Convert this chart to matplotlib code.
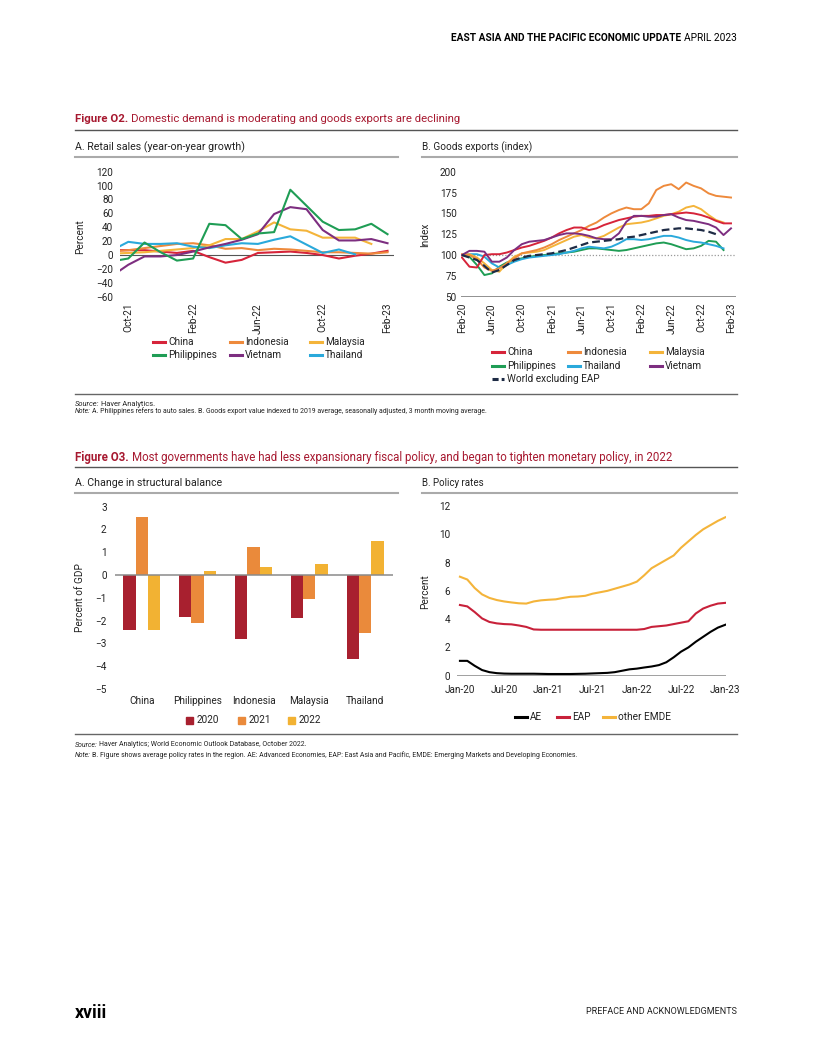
import numpy as np
import matplotlib
matplotlib.use('Agg')
import matplotlib.pyplot as plt
from matplotlib.lines import Line2D
from matplotlib.patches import Rectangle
from matplotlib import font_manager

W, H = 816, 1056

# ---------------- data ----------------
# Figure O2 A: retail sales, Sep-21 .. Feb-23 (Sep-21 sits outside the axis, only its stub shows)
retail_ticks = ['Oct-21', 'Feb-22', 'Jun-22', 'Oct-22', 'Feb-23']
retail_china = [7, 7, 7, 5, 3, 6, -3, -11, -7, 3, 4, 5, 3, 0, -5, -1, 2, 6]
retail_indonesia = [5, 7, 10, 13, 16, 17, 14, 9, 10, 7, 9, 8, 6, 4, 4, 3, 2, 4]
retail_malaysia = [2, 3, 4, 6, 8, 10, 14, 23, 23, 34, 47, 37, 35, 25, 25, 25, 16]
retail_philippines = [-9, -5, 18, 4, -8, -5, 45, 43, 23, 31, 33, 94, 71, 48, 36, 37, 45, 30]
retail_vietnam = [-30, -14, -2, -2, 0, 5, 11, 16, 22, 30, 59, 69, 66, 36, 21, 21, 23, 17]
retail_thailand = [7, 19, 16, 16, 17, 12, 10, 14, 17, 16, 22, 27, 15, 3, 8, 1]

# Figure O2 B: goods exports index, Feb-20 .. Feb-23
goods_ticks = ['Feb-20', 'Jun-20', 'Oct-20', 'Feb-21', 'Jun-21', 'Oct-21',
               'Feb-22', 'Jun-22', 'Oct-22', 'Feb-23']
goods_china = [97, 86, 85, 100, 101, 101, 103, 106, 109, 111, 114, 117, 121, 126, 130,
               133, 133, 130, 132, 136, 139, 142, 144, 146, 147, 147, 148, 148, 149, 150,
               151, 150, 148, 145, 141, 138, 138]
goods_indonesia = [101, 100, 95, 85, 81, 84, 90, 96, 102, 104, 106, 109, 113, 118, 122,
                   126, 130, 135, 139, 145, 150, 154, 157, 155, 155, 162, 178, 183, 185,
                   179, 187, 183, 180, 174, 171, 170, 169]
goods_malaysia = [100, 101, 97, 90, 82, 80, 90, 98, 102, 103, 104, 106, 110, 114, 118,
                  122, 124, 121, 120, 123, 128, 133, 137, 138, 139, 141, 144, 147, 149,
                  152, 157, 159, 155, 148, 142, 139]
goods_philippines = [100, 98, 88, 76, 78, 86, 91, 94, 96, 98, 99, 100, 101, 102, 103,
                     104, 106, 108, 108, 107, 106, 105, 106, 108, 110, 112, 114, 115, 113,
                     110, 107, 108, 111, 117, 116, 106]
goods_thailand = [100, 101, 101, 98, 90, 85, 88, 92, 95, 97, 98, 99, 100, 101, 103,
                  105, 108, 110, 109, 108, 110, 114, 119, 119, 118, 119, 121, 123, 123,
                  121, 118, 116, 115, 113, 111, 108]
goods_vietnam = [100, 105, 105, 104, 92, 92, 97, 106, 113, 116, 117, 118, 121, 124, 126,
                 126, 125, 123, 120, 119, 119, 126, 140, 147, 147, 146, 146, 148, 149,
                 145, 142, 141, 139, 137, 133, 124, 132]
goods_world = [100, 97, 94, 87, 79, 82, 88, 94, 97, 99, 100, 101, 102, 104, 106,
               109, 112, 115, 116, 117, 118, 119, 121, 122, 124, 126, 128, 130, 131,
               132, 132, 131, 130, 128, 125]

# Figure O3 A: change in structural balance (percent of GDP)
sb_countries = ['China', 'Philippines', 'Indonesia', 'Malaysia', 'Thailand']
sb_2020 = [-2.43, -1.82, -2.79, -1.88, -3.68]
sb_2021 = [2.56, -2.11, 1.24, -1.05, -2.53]
sb_2022 = [-2.43, 0.16, 0.35, 0.47, 1.48]

# Figure O3 B: policy rates, Jan-20 .. Jan-23
policy_ticks = ['Jan-20', 'Jul-20', 'Jan-21', 'Jul-21', 'Jan-22', 'Jul-22', 'Jan-23']
policy_ae = [1.05, 1.05, 0.7, 0.4, 0.25, 0.18, 0.15, 0.14, 0.14, 0.14, 0.14, 0.13, 0.12,
             0.12, 0.12, 0.12, 0.13, 0.14, 0.16, 0.18, 0.2, 0.25, 0.35, 0.45, 0.5, 0.58,
             0.65, 0.75, 0.95, 1.3, 1.7, 2.0, 2.4, 2.75, 3.1, 3.4, 3.6]
policy_eap = [5.0, 4.9, 4.5, 4.05, 3.8, 3.7, 3.65, 3.63, 3.55, 3.45, 3.27, 3.25, 3.25,
              3.25, 3.25, 3.25, 3.25, 3.25, 3.25, 3.25, 3.25, 3.25, 3.25, 3.25, 3.25,
              3.3, 3.45, 3.5, 3.55, 3.65, 3.75, 3.85, 4.4, 4.75, 4.95, 5.1, 5.15]
policy_emde = [7.0, 6.8, 6.2, 5.75, 5.5, 5.35, 5.25, 5.18, 5.12, 5.1, 5.25, 5.33, 5.37,
               5.4, 5.5, 5.58, 5.6, 5.65, 5.8, 5.9, 6.0, 6.15, 6.3, 6.45, 6.65, 7.1,
               7.6, 7.9, 8.2, 8.5, 9.05, 9.5, 9.95, 10.35, 10.65, 10.95, 11.2]

# ---------------- style ----------------
avail = {f.name for f in font_manager.fontManager.ttflist}
FONT = next((f for f in ['Liberation Sans Narrow', 'Roboto', 'Liberation Sans'] if f in avail), 'DejaVu Sans')
plt.rcParams['font.family'] = [FONT, 'DejaVu Sans']

TXT = '#222222'
TITLE_RED = '#A71930'
RED, ORANGE, YELLOW = '#D6243A', '#EE8A3C', '#F4B43A'
GREEN, PURPLE, BLUE, NAVY = '#1F9D55', '#7D2E80', '#2AA9DB', '#1E2B45'
BAR20, BAR21, BAR22 = '#A8202F', '#EA8A3B', '#F2B233'
TICK = 7.2
LEG = 7.2

fig = plt.figure(figsize=(W / 100, H / 100), dpi=100)
renderer = fig.canvas.get_renderer()


def fx(x):
    return x / W


def fy(y):
    return 1 - y / H


def px_axes(x0, y0, x1, y1):
    ax = fig.add_axes([fx(x0), fy(y1), (x1 - x0) / W, (y1 - y0) / H])
    for s in ax.spines.values():
        s.set_visible(False)
    ax.tick_params(length=0, labelsize=TICK, colors=TXT)
    return ax


def hline(x0, x1, y, color, lw):
    fig.add_artist(Line2D([fx(x0), fx(x1)], [fy(y), fy(y)], color=color, lw=lw))


def rich(x, y, parts, size, ha='left', width=None, **extra):
    # place text pieces one after another; optionally scale so the run spans `width` px
    def place(sz):
        objs, cur = [], x
        gap = sz * 100 / 72 * 0.25
        for s, kw in parts:
            t = fig.text(fx(cur), fy(y), s, fontsize=sz, va='center', **kw, **extra)
            cur += t.get_window_extent(renderer).width + gap
            objs.append(t)
        return objs, cur - gap - x

    objs, total = place(size)
    if width:
        for t in objs:
            t.remove()
        objs, total = place(size * width / total)
    if ha == 'right':
        for t in objs:
            t.set_x(t.get_position()[0] - total / W)
    return objs


def leg_line(x, y, label, color, ls='-'):
    fig.add_artist(Line2D([fx(x), fx(x + 12)], [fy(y), fy(y)], color=color, lw=2.2, ls=ls))
    fig.text(fx(x + 15), fy(y), label, fontsize=LEG, va='center', color=TXT)


def leg_box(x, y, label, color):
    fig.add_artist(Rectangle((fx(x), fy(y + 3.5)), 7 / W, 7 / H, color=color,
                             transform=fig.transFigure))
    fig.text(fx(x + 11), fy(y), label, fontsize=LEG, va='center', color=TXT)


# ---------------- page furniture ----------------
rich(737, 38, [('EAST ASIA AND THE PACIFIC ECONOMIC UPDATE', dict(fontweight='bold')),
               ('APRIL 2023', {})], 7.2, ha='right', width=285, color='black')

rich(75, 119, [('Figure O2.', dict(fontweight='bold')),
               ('Domestic demand is moderating and goods exports are declining', {})],
     9, width=389, color=TITLE_RED)
hline(75, 737, 130, '#555555', 1.0)

rich(75, 147, [('A. Retail sales (year-on-year growth)', {})], 7.5, width=170, color=TXT)
rich(422, 147, [('B. Goods exports (index)', {})], 7.5, width=110, color=TXT)
hline(75, 398, 157, '#AAAAAA', 1.5)
hline(422, 737, 157, '#AAAAAA', 1.5)

hline(75, 737, 394, '#666666', 1.0)
rich(75, 404, [('Source:', dict(fontstyle='italic')), ('Haver Analytics.', {})], 4.8, width=79, color=TXT)
rich(75, 411, [('Note:', dict(fontstyle='italic')),
               ('A. Philippines refers to auto sales. B. Goods export value indexed to 2019 average, '
                'seasonally adjusted, 3 month moving average.', {})], 4.8, width=412, color=TXT)

rich(75, 457, [('Figure O3.', dict(fontweight='bold')),
               ('Most governments have had less expansionary fiscal policy, and began to tighten '
                'monetary policy, in 2022', {})], 9, width=602, color=TITLE_RED)
hline(75, 737, 467, '#555555', 1.0)

rich(75, 483, [('A. Change in structural balance', {})], 7.5, width=147, color=TXT)
rich(422, 483, [('B. Policy rates', {})], 7.5, width=62, color=TXT)
hline(75, 398, 493, '#AAAAAA', 1.5)
hline(422, 737, 493, '#AAAAAA', 1.5)

hline(75, 737, 734, '#666666', 1.0)
rich(75, 745, [('Source:', dict(fontstyle='italic')),
               ('Haver Analytics; World Economic Outlook Database, October 2022.', {})],
     4.8, width=228, color=TXT)
rich(75, 755, [('Note:', dict(fontstyle='italic')),
               ('B. Figure shows average policy rates in the region. AE: Advanced Economies, EAP: East Asia '
                'and Pacific, EMDE: Emerging Markets and Developing Economies.', {})],
     4.8, width=495, color=TXT)

rich(75, 1013, [('xviii', dict(fontweight='bold'))], 12, width=32, color='black')
rich(737, 1011, [('PREFACE AND ACKNOWLEDGMENTS', {})], 6.5, ha='right', width=150, color=TXT)

# ---------------- O2 A: retail sales ----------------
ax = px_axes(120.2, 171.7, 394, 296.7)
ax.set_xlim(-0.5, 16.4)
ax.set_ylim(-60, 120)
ax.axhline(0, color='#555555', lw=0.8, zorder=1)
for vals, col in [(retail_china, RED), (retail_indonesia, ORANGE), (retail_malaysia, YELLOW),
                  (retail_thailand, BLUE), (retail_vietnam, PURPLE), (retail_philippines, GREEN)]:
    ax.plot(np.arange(len(vals)) - 1, vals, color=col, lw=1.5, zorder=2)
ax.set_yticks(np.arange(-60, 121, 20))
ax.set_xticks(np.arange(0, 17, 4))
ax.set_xticklabels(retail_ticks, rotation=90)
ax.tick_params(axis='y', pad=5)
ax.tick_params(axis='x', pad=4.5)
fig.text(fx(80), fy(237), 'Percent', rotation=90, fontsize=TICK, ha='center', va='center', color=TXT)

leg_line(153, 342, 'China', RED)
leg_line(230, 342, 'Indonesia', ORANGE)
leg_line(310, 342, 'Malaysia', YELLOW)
leg_line(153, 355, 'Philippines', GREEN)
leg_line(230, 355, 'Vietnam', PURPLE)
leg_line(310, 355, 'Thailand', BLUE)

# ---------------- O2 B: goods exports ----------------
ax = px_axes(461, 171.7, 736, 296.7)
ax.set_xlim(-0.13, 36.67)
ax.set_ylim(50, 200)
ax.axhline(50, color='#888888', lw=1.3, zorder=1)
ax.axhline(100, color='#999999', lw=0.9, ls=(0, (1, 1.5)), zorder=1)
for vals, col in [(goods_philippines, GREEN), (goods_thailand, BLUE), (goods_malaysia, YELLOW),
                  (goods_indonesia, ORANGE), (goods_china, RED), (goods_vietnam, PURPLE)]:
    ax.plot(np.arange(len(vals)), vals, color=col, lw=1.4, zorder=2)
ax.plot(np.arange(len(goods_world)), goods_world, color=NAVY, lw=1.6, ls=(0, (3.5, 1.8)), zorder=3)
ax.set_yticks(np.arange(50, 201, 25))
ax.set_xticks(np.arange(0, 37, 4))
ax.set_xticklabels(goods_ticks, rotation=90)
ax.tick_params(axis='y', pad=3)
ax.tick_params(axis='x', pad=4.5)
fig.text(fx(425), fy(235), 'Index', rotation=90, fontsize=TICK, ha='center', va='center', color=TXT)

leg_line(492, 352, 'China', RED)
leg_line(568, 352, 'Indonesia', ORANGE)
leg_line(650, 352, 'Malaysia', YELLOW)
leg_line(492, 366, 'Philippines', GREEN)
leg_line(568, 366, 'Thailand', BLUE)
leg_line(650, 366, 'Vietnam', PURPLE)
leg_line(492, 379, 'World excluding EAP', NAVY, ls=(0, (2, 1)))

# ---------------- O3 A: structural balance ----------------
ax = px_axes(115, 506.7, 393, 689)
ax.set_xlim(-0.48, 4.5)
ax.set_ylim(-5, 3)
x = np.arange(len(sb_countries))
bw = 0.22
ax.bar(x - bw, sb_2020, bw, color=BAR20, zorder=2)
ax.bar(x, sb_2021, bw, color=BAR21, zorder=2)
ax.bar(x + bw, sb_2022, bw, color=BAR22, zorder=2)
ax.axhline(0, color='#8A8A8A', lw=1.1, zorder=3)
ax.set_yticks(np.arange(-5, 4, 1))
ax.set_xticks(x)
ax.set_xticklabels(sb_countries)
ax.tick_params(axis='y', pad=6)
ax.tick_params(axis='x', pad=5)
fig.text(fx(80), fy(598), 'Percent of GDP', rotation=90, fontsize=TICK, ha='center', va='center', color=TXT)

leg_box(186, 720, '2020', BAR20)
leg_box(238, 720, '2021', BAR21)
leg_box(288, 720, '2022', BAR22)

# ---------------- O3 B: policy rates ----------------
ax = px_axes(457, 506, 726, 675.7)
ax.set_xlim(-0.4, 36.1)
ax.set_ylim(0, 12)
ax.axhline(0, color='#999999', lw=1.3, zorder=1)
m = np.arange(len(policy_ae))
ax.plot(m, policy_emde, color=YELLOW, lw=1.5, zorder=2)
ax.plot(m, policy_eap, color='#C8213A', lw=1.5, zorder=2)
ax.plot(m, policy_ae, color='black', lw=1.5, zorder=2)
ax.set_yticks(np.arange(0, 13, 2))
ax.set_xticks(np.arange(0, 37, 6))
ax.set_xticklabels(policy_ticks)
ax.tick_params(axis='y', pad=5)
ax.tick_params(axis='x', pad=7)
fig.text(fx(425), fy(592), 'Percent', rotation=90, fontsize=TICK, ha='center', va='center', color=TXT)

leg_line(515, 717, 'AE', 'black')
leg_line(557, 717, 'EAP', '#C8213A')
leg_line(603, 717, 'other EMDE', YELLOW)

fig.savefig('out.png', dpi=100)
